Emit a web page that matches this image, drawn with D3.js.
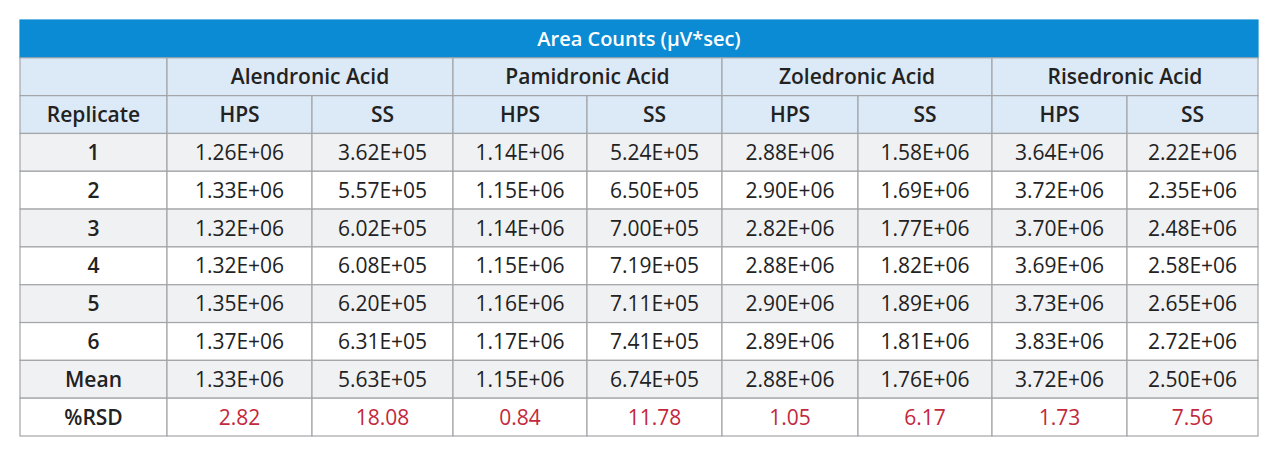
<!DOCTYPE html>
<html><head><meta charset="utf-8">
<script src="https://cdn.jsdelivr.net/npm/d3@7"></script>
<style>body{margin:0;background:#fff}</style>
</head><body><svg id="c"></svg>
<script>
const title = 'Area Counts (µV*sec)';
const acids = ['Alendronic Acid', 'Pamidronic Acid', 'Zoledronic Acid', 'Risedronic Acid'];
const subs = ['HPS', 'SS'];
const rowLabels = ['1', '2', '3', '4', '5', '6', 'Mean', '%RSD'];
const values = [
  ['1.26E+06','3.62E+05','1.14E+06','5.24E+05','2.88E+06','1.58E+06','3.64E+06','2.22E+06'],
  ['1.33E+06','5.57E+05','1.15E+06','6.50E+05','2.90E+06','1.69E+06','3.72E+06','2.35E+06'],
  ['1.32E+06','6.02E+05','1.14E+06','7.00E+05','2.82E+06','1.77E+06','3.70E+06','2.48E+06'],
  ['1.32E+06','6.08E+05','1.15E+06','7.19E+05','2.88E+06','1.82E+06','3.69E+06','2.58E+06'],
  ['1.35E+06','6.20E+05','1.16E+06','7.11E+05','2.90E+06','1.89E+06','3.73E+06','2.65E+06'],
  ['1.37E+06','6.31E+05','1.17E+06','7.41E+05','2.89E+06','1.81E+06','3.83E+06','2.72E+06'],
  ['1.33E+06','5.63E+05','1.15E+06','6.74E+05','2.88E+06','1.76E+06','3.72E+06','2.50E+06'],
  ['2.82','18.08','0.84','11.78','1.05','6.17','1.73','7.56']
];

const W = 1280, H = 458;
const svg = d3.select('#c').attr('width', W).attr('height', H);
const font = '"Open Sans", "Noto Sans", sans-serif';
const border = '#a3a5a8', blue = '#0a8bd3', lightBlue = '#dce9f6', gray = '#f0f1f3', red = '#c3283c';

// column edges (layout)
const xs = [20, 167, 312, 453, 587, 722, 858, 992, 1127, 1258];
const y = d3.scaleLinear().domain([0, 11]).range([20, 436]);

const rect = (x0, x1, r0, r1, fill) => svg.append('rect')
  .attr('x', x0).attr('y', y(r0)).attr('width', x1 - x0).attr('height', y(r1) - y(r0))
  .attr('fill', fill).attr('stroke', border).attr('stroke-width', 1.2);
const text = (cx, r, s, opts = {}) => svg.append('text')
  .attr('x', cx).attr('y', (y(r) + y(r + 1)) / 2).attr('dy', '0.36em')
  .attr('text-anchor', 'middle').attr('font-family', font)
  .attr('font-size', opts.size || 21).attr('font-weight', opts.bold ? 600 : 400)
  .attr('fill', opts.fill || '#222').text(s);

// title bar
rect(xs[0], xs[9], 0, 1, blue).attr('stroke', blue);
text((xs[0] + xs[9]) / 2, 0, title, { bold: true, fill: '#fff', size: 20 });

// acid row + sub row
rect(xs[0], xs[1], 1, 2, lightBlue);
rect(xs[0], xs[1], 2, 3, lightBlue);
text((xs[0] + xs[1]) / 2, 2, 'Replicate', { bold: true });
acids.forEach((a, i) => {
  rect(xs[1 + 2 * i], xs[3 + 2 * i], 1, 2, lightBlue);
  text((xs[1 + 2 * i] + xs[3 + 2 * i]) / 2, 1, a, { bold: true });
  subs.forEach((s, j) => {
    const k = 1 + 2 * i + j;
    rect(xs[k], xs[k + 1], 2, 3, lightBlue);
    text((xs[k] + xs[k + 1]) / 2, 2, s, { bold: true });
  });
});

// data rows
rowLabels.forEach((lab, r) => {
  const ri = r + 3;
  const fill = r % 2 === 0 ? gray : '#fff';
  rect(xs[0], xs[1], ri, ri + 1, fill);
  text((xs[0] + xs[1]) / 2, ri, lab, { bold: true });
  values[r].forEach((v, c) => {
    rect(xs[c + 1], xs[c + 2], ri, ri + 1, fill);
    text((xs[c + 1] + xs[c + 2]) / 2, ri, v, { fill: lab === '%RSD' ? red : '#222' });
  });
});
</script></body></html>
